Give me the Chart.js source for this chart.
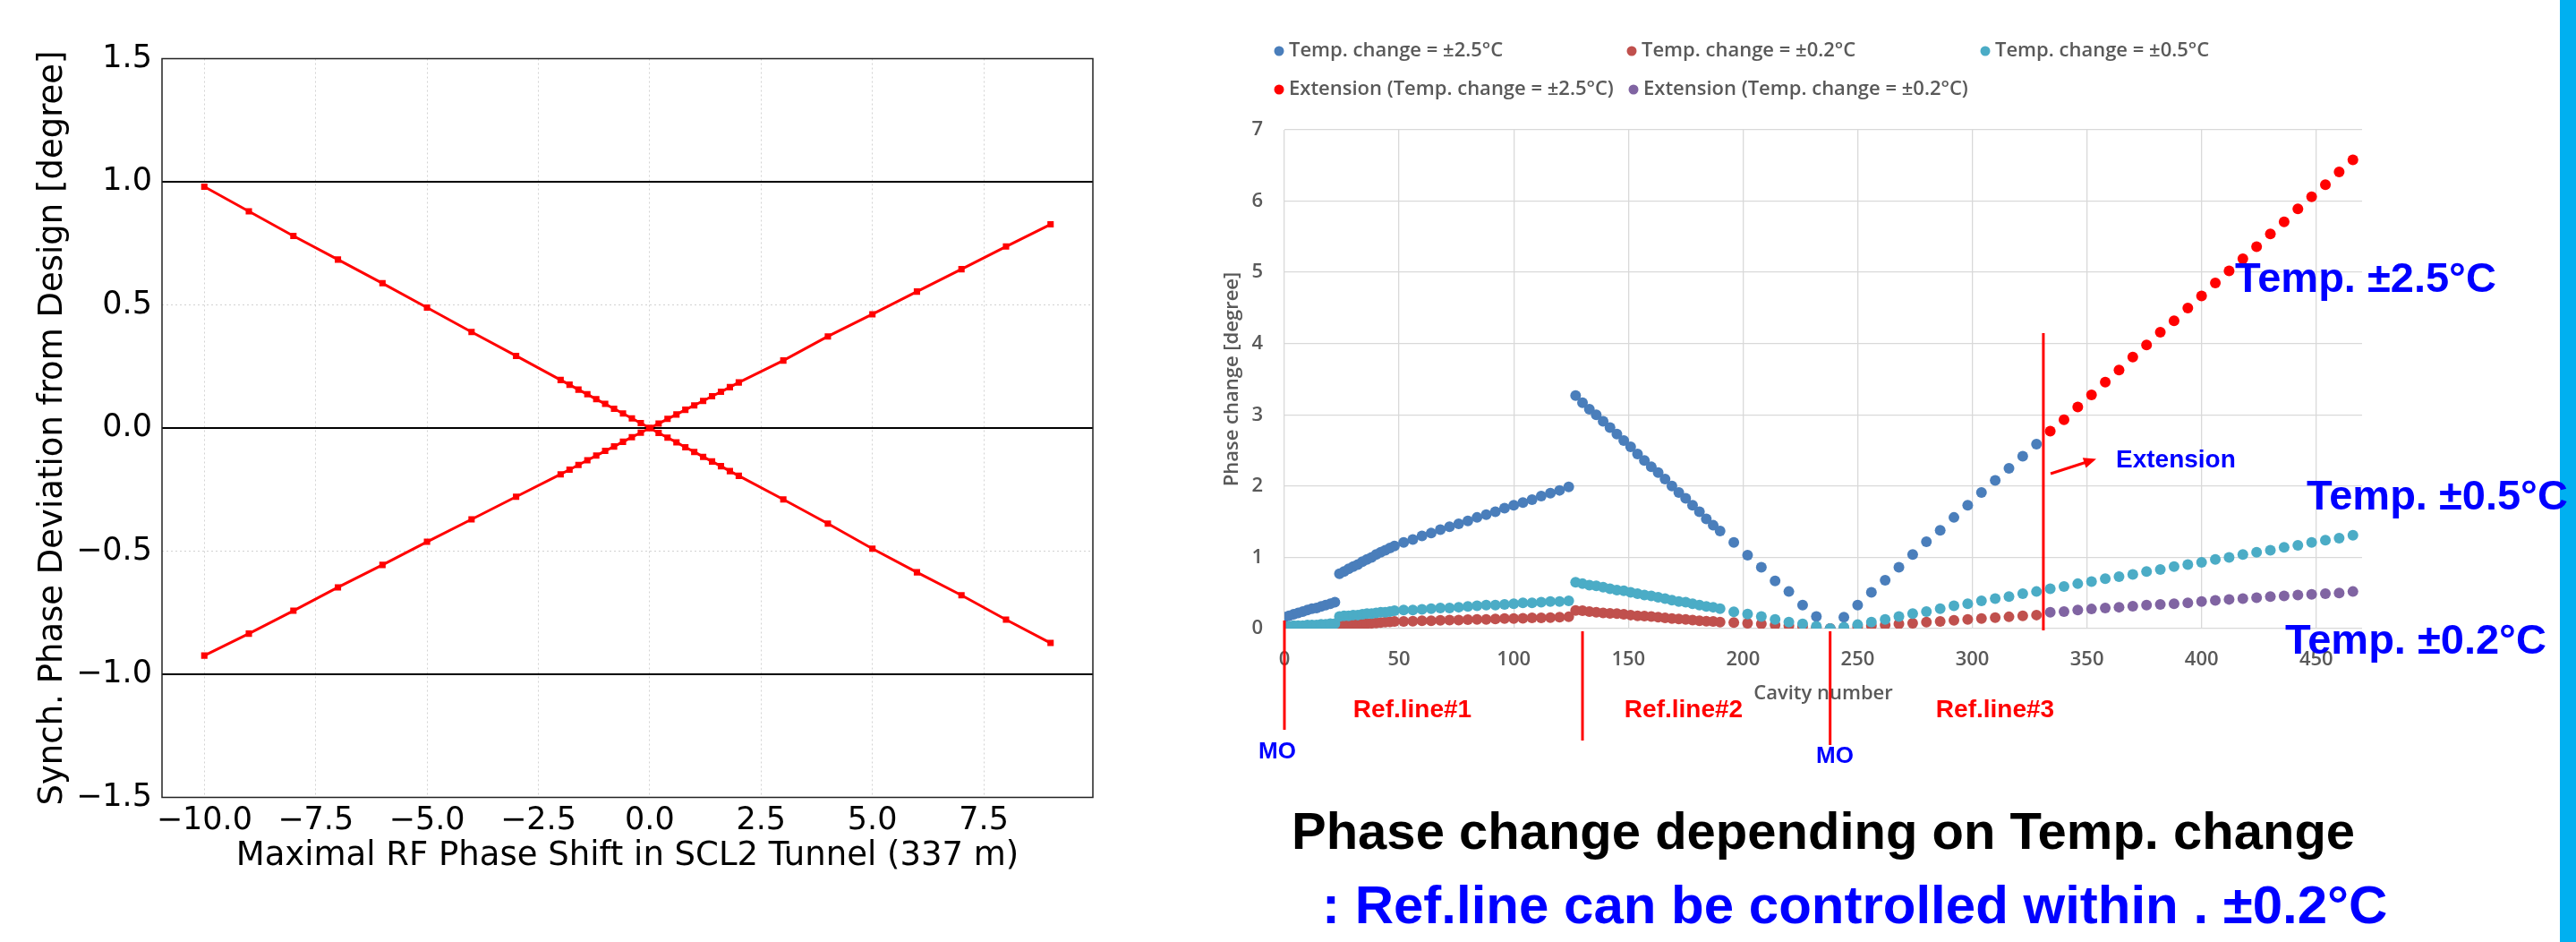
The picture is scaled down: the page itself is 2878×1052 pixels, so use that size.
<!DOCTYPE html>
<html>
<head>
<meta charset="utf-8">
<script src="https://cdn.jsdelivr.net/npm/chart.js@4.4.1/dist/chart.umd.min.js"></script>
<style>
  body { margin: 0; background: #fff; }
  #page { position: relative; width: 2878px; height: 1052px; overflow: hidden; background: #fff; }
  #shift-chart { position: absolute; left: 0; top: 0; }
  #temp-chart { position: absolute; left: 1340px; top: 0; z-index: 2; }
  #side-bar { position: absolute; left: 2860px; top: 0; width: 18px; height: 1052px; background: #00b0f0; z-index: 1; }
</style>
</head>
<body>
<div id="page">
  <canvas id="shift-chart" width="1330" height="1052"></canvas>
  <div id="side-bar"></div>
  <canvas id="temp-chart" width="1538" height="1052"></canvas>
</div>
<script>
// left: synch. phase deviation vs maximal RF phase shift
var shiftX = [-10, -9, -8, -7, -6, -5, -4, -3, -2, -1.8, -1.6, -1.4, -1.2, -1, -0.8, -0.6, -0.4, -0.2, 0,
              0.2, 0.4, 0.6, 0.8, 1, 1.2, 1.4, 1.6, 1.8, 2, 3, 4, 5, 6, 7, 8, 9];
var devDown = [0.98, 0.88, 0.78, 0.684, 0.588, 0.489, 0.39, 0.293, 0.195, 0.176, 0.156, 0.137, 0.117, 0.098, 0.078, 0.059, 0.039, 0.02, 0,
               -0.02, -0.039, -0.058, -0.078, -0.097, -0.117, -0.136, -0.155, -0.175, -0.194, -0.29, -0.388, -0.49, -0.586, -0.679, -0.778, -0.873];
var devUp = [-0.924, -0.835, -0.742, -0.647, -0.556, -0.462, -0.371, -0.279, -0.188, -0.169, -0.15, -0.131, -0.112, -0.093, -0.075, -0.056, -0.037, -0.019, 0,
             0.018, 0.037, 0.055, 0.074, 0.092, 0.11, 0.129, 0.147, 0.166, 0.185, 0.274, 0.372, 0.462, 0.554, 0.645, 0.737, 0.827];
var shiftTicks = [-10, -7.5, -5, -2.5, 0, 2.5, 5, 7.5];
var devTicks = [-1.5, -1, -0.5, 0, 0.5, 1, 1.5];
var devLimits = [1, 0, -1];

// right: phase change vs cavity number
var cavityMain = [0, 2, 4, 6, 8, 10, 12, 14, 16, 18, 20, 22,
                  24, 26, 28, 30, 32, 34, 36, 38, 40, 42, 44, 46, 48,
                  52, 56, 60, 64, 68, 72, 76, 80, 84, 88, 92, 96, 100, 104, 108, 112, 116, 120, 124,
                  127, 130, 133, 136, 139, 142, 145, 148, 151, 154, 157, 160, 163, 166, 169, 172, 175, 178, 181, 184, 187, 190,
                  196, 202, 208, 214, 220, 226, 232, 238, 244, 250, 256, 262, 268, 274, 280, 286, 292, 298, 304, 310, 316, 322, 328];
var cavityExt = [334, 340, 346, 352, 358, 364, 370, 376, 382, 388, 394, 400, 406, 412, 418, 424, 430, 436, 442, 448, 454, 460, 466];

var phase25 = [0.16, 0.18, 0.20, 0.22, 0.24, 0.26, 0.28, 0.29, 0.31, 0.33, 0.35, 0.37,
               0.77, 0.80, 0.84, 0.87, 0.90, 0.94, 0.97, 1.00, 1.04, 1.07, 1.10, 1.13, 1.16,
               1.21, 1.25, 1.30, 1.34, 1.39, 1.43, 1.47, 1.51, 1.56, 1.60, 1.64, 1.69, 1.73, 1.77, 1.81, 1.86, 1.90, 1.94, 1.99,
               3.27, 3.17, 3.08, 3.00, 2.91, 2.82, 2.73, 2.64, 2.55, 2.45, 2.36, 2.27, 2.19, 2.10, 2.00, 1.91, 1.83, 1.73, 1.64, 1.54, 1.45, 1.37,
               1.21, 1.03, 0.86, 0.67, 0.52, 0.33, 0.17, 0.00, 0.16, 0.33, 0.51, 0.68, 0.86, 1.04, 1.22, 1.38, 1.56, 1.73, 1.91, 2.08, 2.25, 2.42, 2.59];
var phase02 = [0.00, 0.00, 0.01, 0.01, 0.01, 0.01, 0.01, 0.02, 0.02, 0.02, 0.02, 0.03,
               0.04, 0.045, 0.05, 0.055, 0.06, 0.065, 0.07, 0.075, 0.08, 0.085, 0.09, 0.095, 0.10,
               0.10, 0.105, 0.11, 0.11, 0.115, 0.12, 0.12, 0.125, 0.13, 0.13, 0.135, 0.14, 0.14, 0.145, 0.15, 0.15, 0.155, 0.16, 0.165,
               0.255, 0.25, 0.24, 0.23, 0.22, 0.215, 0.21, 0.20, 0.19, 0.18, 0.175, 0.17, 0.16, 0.15, 0.14, 0.135, 0.13, 0.12, 0.11, 0.105, 0.10, 0.09,
               0.085, 0.075, 0.065, 0.05, 0.04, 0.03, 0.015, 0.00, 0.01, 0.025, 0.04, 0.05, 0.065, 0.075, 0.09, 0.10, 0.115, 0.13, 0.14, 0.155, 0.165, 0.18, 0.19];
var phase05 = [0.03, 0.03, 0.04, 0.04, 0.04, 0.05, 0.05, 0.05, 0.06, 0.06, 0.07, 0.07,
               0.17, 0.18, 0.18, 0.19, 0.19, 0.20, 0.21, 0.21, 0.22, 0.23, 0.23, 0.24, 0.25,
               0.26, 0.26, 0.27, 0.28, 0.29, 0.29, 0.30, 0.31, 0.32, 0.33, 0.33, 0.34, 0.35, 0.36, 0.36, 0.37, 0.38, 0.38, 0.39,
               0.65, 0.63, 0.61, 0.60, 0.58, 0.56, 0.54, 0.53, 0.51, 0.49, 0.47, 0.46, 0.44, 0.42, 0.40, 0.38, 0.37, 0.35, 0.33, 0.31, 0.30, 0.28,
               0.235, 0.205, 0.17, 0.13, 0.09, 0.067, 0.03, 0.00, 0.02, 0.055, 0.09, 0.13, 0.17, 0.21, 0.24, 0.28, 0.32, 0.35, 0.39, 0.42, 0.45, 0.49, 0.52,
               0.56, 0.59, 0.63, 0.66, 0.70, 0.73, 0.76, 0.80, 0.83, 0.87, 0.90, 0.93, 0.97, 1.00, 1.04, 1.07, 1.10, 1.14, 1.17, 1.21, 1.24, 1.27, 1.31];
var ext25 = [2.77, 2.93, 3.11, 3.28, 3.46, 3.63, 3.81, 3.98, 4.16, 4.32, 4.50, 4.67, 4.85, 5.02, 5.19, 5.36, 5.54, 5.71, 5.89, 6.06, 6.23, 6.41, 6.58];
var ext02 = [0.23, 0.24, 0.26, 0.275, 0.29, 0.30, 0.315, 0.33, 0.34, 0.35, 0.36, 0.38, 0.395, 0.41, 0.42, 0.435, 0.45, 0.46, 0.47, 0.48, 0.49, 0.50, 0.52];

var seriesLabels = ['Temp. change = \u00b12.5\u00b0C', 'Temp. change = \u00b10.2\u00b0C', 'Temp. change = \u00b10.5\u00b0C',
                    'Extension (Temp. change = \u00b12.5\u00b0C)', 'Extension (Temp. change = \u00b10.2\u00b0C)'];
var refCavity = [0, 130, 238, 331];
var refNames = ['Ref.line#1', 'Ref.line#2', 'Ref.line#3'];

var BLUE_TXT = '#0000ff';
var RX = 1340; // left edge of the right canvas on the page
var XL_FONT = { family: 'Open Sans', size: 22, weight: '600' };

function pairs(xs, ys) {
    return xs.map(function (x, i) { return { x: x, y: ys[i] }; });
}

function signed(v) {
    return (v < 0 ? '\u2212' : '') + Math.abs(v).toFixed(1);
}

function text(ctx, str, x, y, font, color, align) {
    ctx.save();
    ctx.font = font;
    ctx.fillStyle = color;
    ctx.textAlign = align || 'left';
    ctx.textBaseline = 'middle';
    ctx.fillText(str, x, y);
    ctx.restore();
}

Chart.defaults.font.family = 'DejaVu Sans';

var shiftDecor = {
    id: 'shiftDecor',
    beforeDatasetsDraw: function (chart) {
        var ctx = chart.ctx, a = chart.chartArea, ys = chart.scales.y;
        ctx.save();
        ctx.strokeStyle = '#000';
        ctx.lineWidth = 1.8;
        devLimits.forEach(function (v) {
            var py = ys.getPixelForValue(v);
            ctx.beginPath();
            ctx.moveTo(a.left, py);
            ctx.lineTo(a.right, py);
            ctx.stroke();
        });
        ctx.lineWidth = 1.5;
        ctx.strokeStyle = '#222';
        ctx.strokeRect(a.left, a.top, a.right - a.left, a.bottom - a.top);
        ctx.restore();
    }
};

var shiftChart = new Chart(document.getElementById('shift-chart'), {
    type: 'scatter',
    data: {
        datasets: [
            { data: pairs(shiftX, devDown), showLine: true, borderColor: '#ff0000', backgroundColor: '#ff0000',
              borderWidth: 3, pointStyle: 'rect', pointRadius: 5, pointBorderWidth: 0 },
            { data: pairs(shiftX, devUp), showLine: true, borderColor: '#ff0000', backgroundColor: '#ff0000',
              borderWidth: 3, pointStyle: 'rect', pointRadius: 5, pointBorderWidth: 0 }
        ]
    },
    options: {
        responsive: false,
        animation: false,
        layout: { padding: { left: 0, right: 109, top: 65.5, bottom: 61.5 } },
        plugins: { legend: { display: false }, tooltip: { enabled: false } },
        scales: {
            x: {
                type: 'linear', min: -10.95, max: 9.95,
                afterBuildTicks: function (s) { s.ticks = shiftTicks.map(function (v) { return { value: v }; }); },
                afterFit: function (s) { s.height = 100; },
                grid: { color: '#d2d2d2', lineWidth: 1, drawTicks: false },
                border: { display: false, dash: [2, 3] },
                ticks: { padding: 5, color: '#000', font: { size: 35 }, maxRotation: 0, callback: signed },
                title: { display: true, text: 'Maximal RF Phase Shift in SCL2 Tunnel (337 m)', color: '#000',
                         font: { size: 37 }, padding: { top: 0, bottom: 12 } }
            },
            y: {
                min: -1.5, max: 1.5,
                afterBuildTicks: function (s) { s.ticks = devTicks.map(function (v) { return { value: v }; }); },
                afterFit: function (s) { s.width = 181; },
                grid: { color: '#d2d2d2', lineWidth: 1, drawTicks: false },
                border: { display: false, dash: [2, 3] },
                ticks: { padding: 11, color: '#000', font: { size: 35 }, callback: signed },
                title: { display: true, text: 'Synch. Phase Deviation from Design [degree]', color: '#000',
                         font: { size: 37 }, padding: { top: 37, bottom: 0 } }
            }
        }
    },
    plugins: [shiftDecor]
});

var tempDecor = {
    id: 'tempDecor',
    afterDraw: function (chart) {
        var ctx = chart.ctx, xs = chart.scales.x;
        var ds = chart.data.datasets;

        // legend laid out in Excel's columns
        var slots = [[1429, 57], [1823, 57], [2218, 57], [1429, 100], [1825, 100]];
        slots.forEach(function (p, i) {
            ctx.save();
            ctx.fillStyle = ds[i].backgroundColor;
            ctx.beginPath();
            ctx.arc(p[0] - RX, p[1], 5.5, 0, Math.PI * 2);
            ctx.fill();
            ctx.restore();
            text(ctx, ds[i].label, p[0] - RX + 11, p[1], '600 22px "Open Sans"', '#595959');
        });

        // reference line markers
        var spans = [[693, 815], [705, 827], [705, 832], [372, 704]];
        ctx.save();
        ctx.strokeStyle = '#ff0000';
        ctx.lineWidth = 3;
        refCavity.forEach(function (c, i) {
            var px = xs.getPixelForValue(c);
            ctx.beginPath();
            ctx.moveTo(px, spans[i][0]);
            ctx.lineTo(px, spans[i][1]);
            ctx.stroke();
        });
        // arrow to the extension
        var x0 = 2291 - RX, y0 = 529, x1 = 2342 - RX, y1 = 512.6;
        var ang = Math.atan2(y1 - y0, x1 - x0);
        ctx.beginPath();
        ctx.moveTo(x0, y0);
        ctx.lineTo(x1 - 8 * Math.cos(ang), y1 - 8 * Math.sin(ang));
        ctx.stroke();
        ctx.fillStyle = '#ff0000';
        ctx.beginPath();
        ctx.moveTo(x1, y1);
        ctx.lineTo(x1 - 14 * Math.cos(ang) + 6 * Math.sin(ang), y1 - 14 * Math.sin(ang) - 6 * Math.cos(ang));
        ctx.lineTo(x1 - 14 * Math.cos(ang) - 6 * Math.sin(ang), y1 - 14 * Math.sin(ang) + 6 * Math.cos(ang));
        ctx.closePath();
        ctx.fill();
        ctx.restore();

        var refX = [1578, 1881, 2229];
        refNames.forEach(function (n, i) {
            text(ctx, n, refX[i] - RX, 793, 'bold 28px "Liberation Sans"', '#ff0000', 'center');
        });
        text(ctx, 'MO', 1427 - RX, 840, 'bold 26px "Liberation Sans"', BLUE_TXT, 'center');
        text(ctx, 'MO', 2050 - RX, 845, 'bold 26px "Liberation Sans"', BLUE_TXT, 'center');
        text(ctx, 'Extension', 2364 - RX, 514, 'bold 28px "Liberation Sans"', BLUE_TXT);

        var big = 'bold 47px "Liberation Sans"';
        text(ctx, 'Temp. \u00b12.5\u00b0C', 2497 - RX, 313, big, BLUE_TXT);
        text(ctx, 'Temp. \u00b10.5\u00b0C', 2577 - RX, 556, big, BLUE_TXT);
        text(ctx, 'Temp. \u00b10.2\u00b0C', 2553 - RX, 717, big, BLUE_TXT);

        text(ctx, 'Phase change depending on Temp. change', 1443 - RX, 932, 'bold 58px "Liberation Sans"', '#000');
        text(ctx, ': Ref.line can be controlled within . \u00b10.2\u00b0C', 1477 - RX, 1014, 'bold 60px "Liberation Sans"', BLUE_TXT);
    }
};

function dotSet(label, xs, ys, color, order) {
    return { label: label, data: pairs(xs, ys), backgroundColor: color, borderWidth: 0,
             pointRadius: 6, pointHoverRadius: 6, order: order };
}

var tempChart = new Chart(document.getElementById('temp-chart'), {
    type: 'scatter',
    data: {
        datasets: [
            dotSet(seriesLabels[0], cavityMain, phase25, '#4a7ebb', 5),
            dotSet(seriesLabels[1], cavityMain, phase02, '#c0504d', 4),
            dotSet(seriesLabels[2], cavityMain.concat(cavityExt), phase05, '#4bacc6', 3),
            dotSet(seriesLabels[3], cavityExt, ext25, '#ff0000', 2),
            dotSet(seriesLabels[4], cavityExt, ext02, '#8064a2', 1)
        ]
    },
    options: {
        responsive: false,
        animation: false,
        layout: { padding: { left: 0, right: 239, top: 145, bottom: 250 } },
        plugins: { legend: { display: false }, tooltip: { enabled: false } },
        scales: {
            x: {
                type: 'linear', min: 0, max: 470,
                afterFit: function (s) { s.height = 100; },
                grid: { color: '#d9d9d9', lineWidth: 1.3, drawTicks: false },
                border: { display: false },
                ticks: { stepSize: 50, includeBounds: false, padding: 22, color: '#595959', font: XL_FONT },
                title: { display: true, text: 'Cavity number', color: '#595959', font: XL_FONT,
                         padding: { top: 0, bottom: 14 } }
            },
            y: {
                min: 0, max: 7,
                afterFit: function (s) { s.width = 95; },
                grid: { color: '#d9d9d9', lineWidth: 1.3, drawTicks: false },
                border: { display: false },
                ticks: { stepSize: 1, padding: 24, color: '#595959', font: XL_FONT },
                title: { display: true, text: 'Phase change [degree]', color: '#595959', font: XL_FONT,
                         padding: { top: 24, bottom: 0 } }
            }
        }
    },
    plugins: [tempDecor]
});
</script>
</body>
</html>
